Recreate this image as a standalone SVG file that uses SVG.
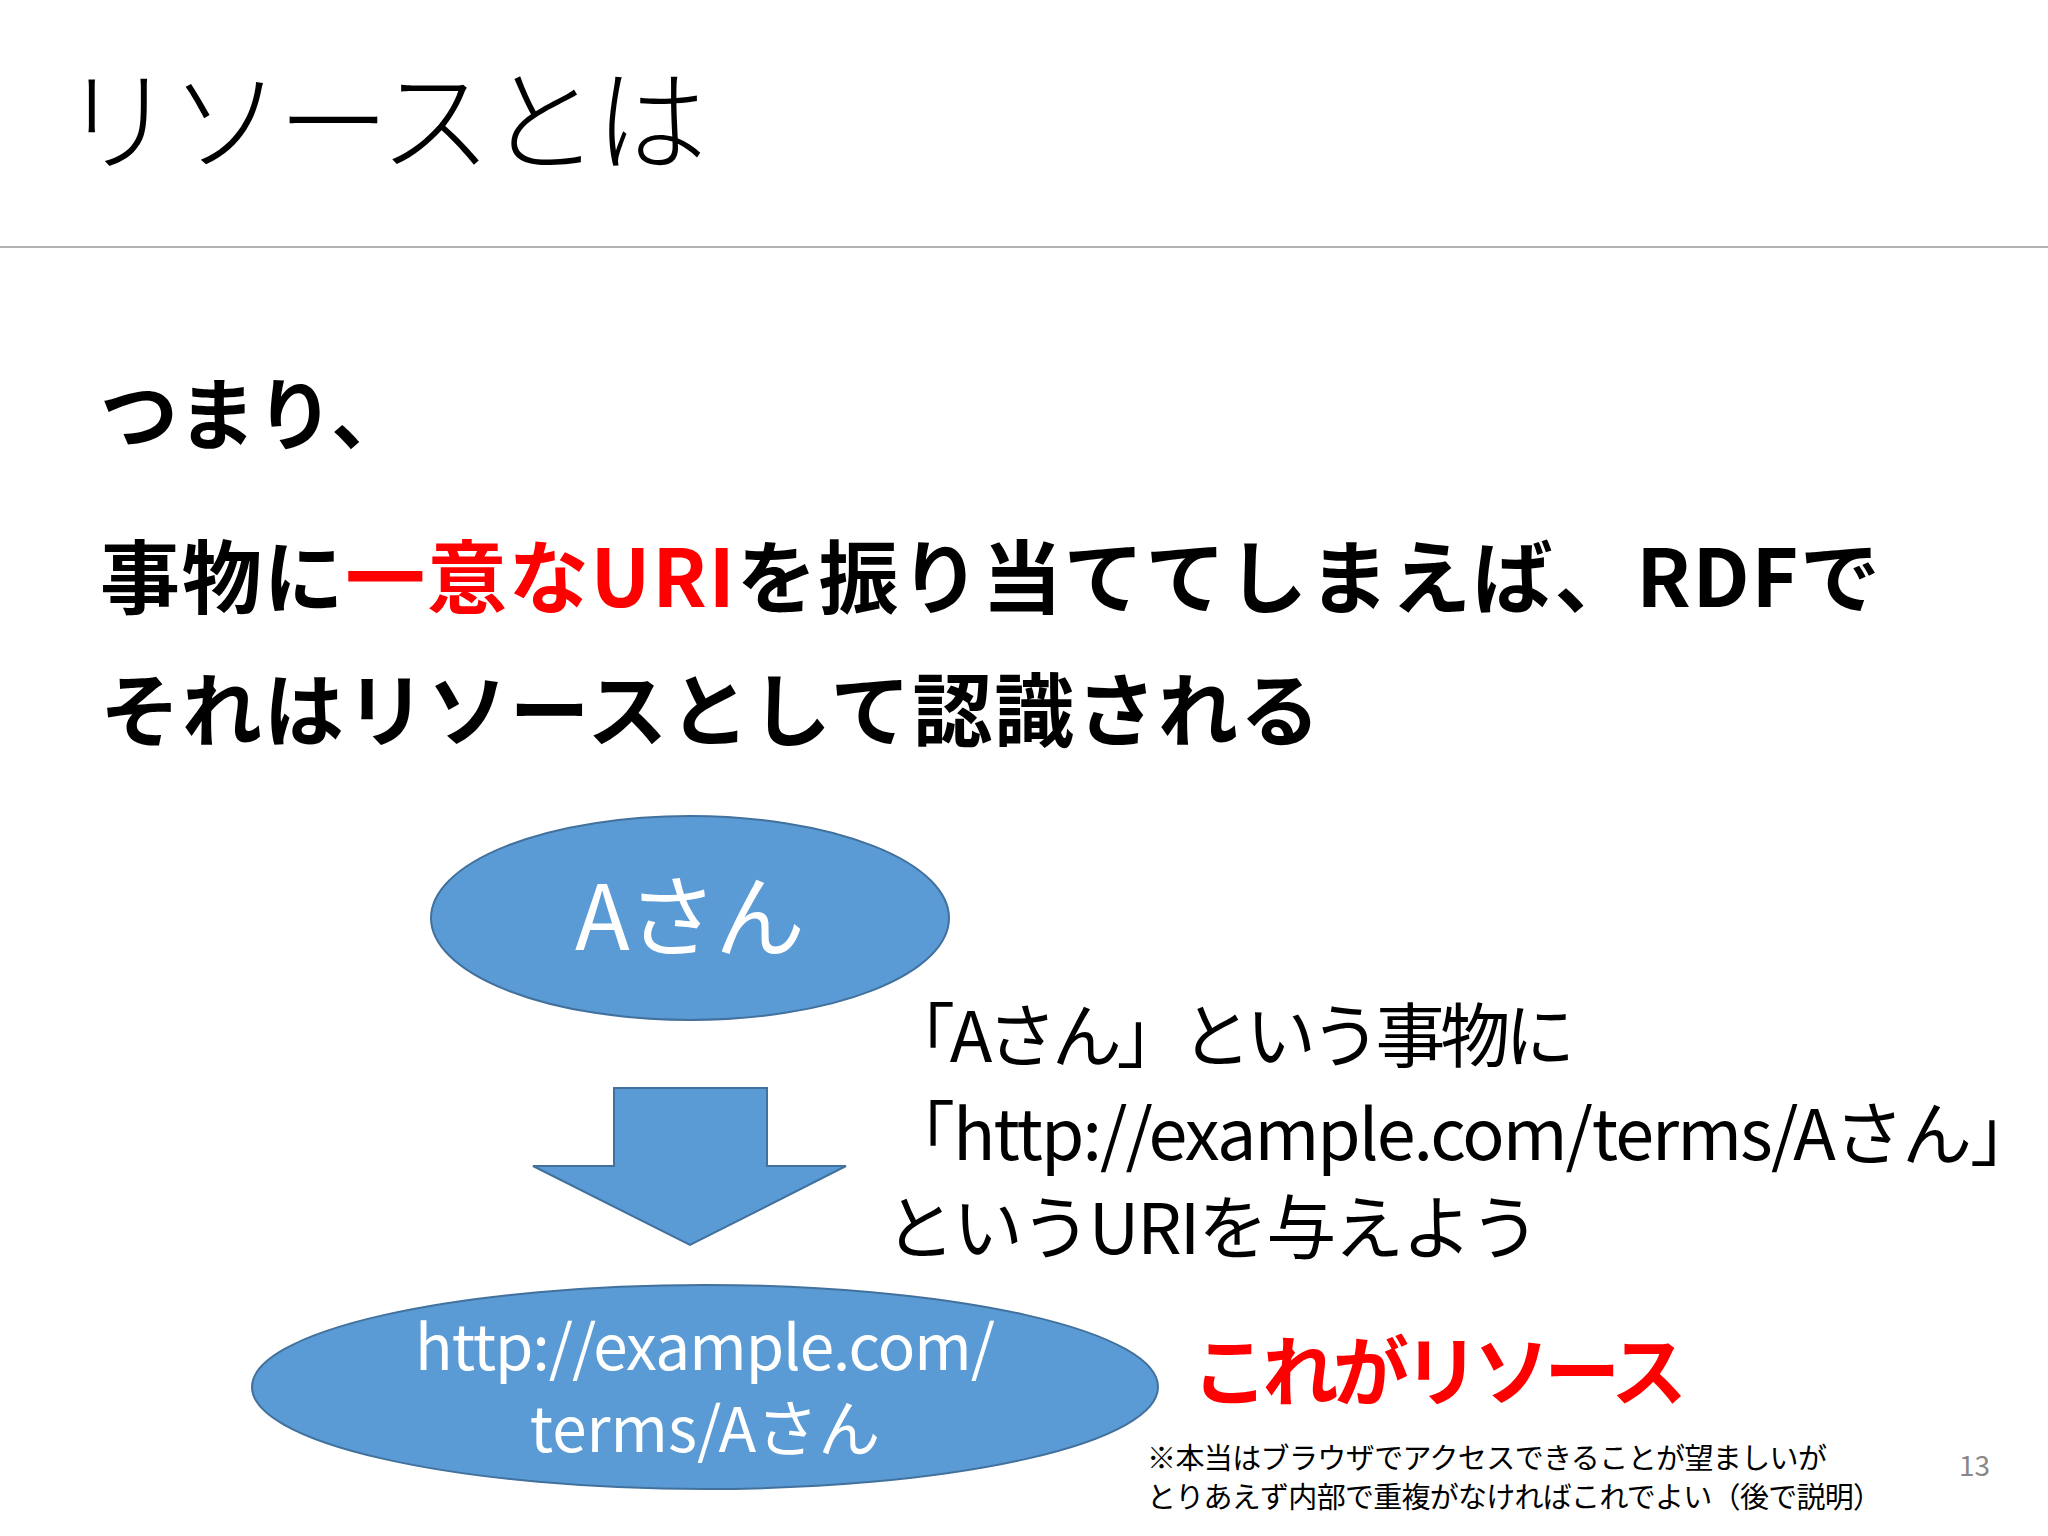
<svg xmlns="http://www.w3.org/2000/svg" width="2048" height="1536" viewBox="0 0 2048 1536">
<style>
text{font-family:"Noto Sans CJK JP","Noto Sans",sans-serif;}
.b{font-weight:bold}
.node{fill:#5b9bd5;stroke:#41719c;stroke-width:2}
.w{fill:#fff}
</style>
<rect width="2048" height="1536" fill="#fff"/>
<text x="62" y="163" font-size="112" font-weight="300" textLength="645">リソースとは</text>
<line x1="0" y1="247" x2="2048" y2="247" stroke="#999" stroke-width="1.5"/>
<text x="100" y="444" font-size="78" class="b">つまり、</text>
<text x="100" y="607" font-size="80" class="b" textLength="1780">事物に<tspan fill="#ff0000">一意なURI</tspan>を振り当ててしまえば、RDFで</text>
<text x="100" y="740" font-size="80" class="b" textLength="1220">それはリソースとして認識される</text>
<g id="nodeA"><ellipse class="node" cx="690" cy="918" rx="259" ry="102"/>
<text class="w" x="690" y="950" font-size="90" text-anchor="middle" textLength="230">Aさん</text></g>
<g id="connectors"><polygon class="node" points="614,1088 767,1088 767,1166 846,1166 690,1245 533,1166 614,1166"/></g>
<g id="label"><text x="885" y="1062" font-size="70" textLength="690">「Aさん」という事物に</text>
<text x="885" y="1160" font-size="70" textLength="1155">「http://example.com/terms/Aさん」</text>
<text x="885" y="1254" font-size="70" textLength="655">というURIを与えよう</text></g>
<g id="nodeB"><ellipse class="node" cx="705" cy="1387" rx="453" ry="102"/>
<text class="w" x="705" y="1370" font-size="62" text-anchor="middle" textLength="580">http://example.com/</text>
<text class="w" x="705" y="1452" font-size="62" text-anchor="middle">terms/Aさん</text></g>
<text x="1192" y="1400" font-size="76" class="b" fill="#ff0000" textLength="495">これがリソース</text>
<text x="1147" y="1469" font-size="29" textLength="680">※本当はブラウザでアクセスできることが望ましいが</text>
<text x="1147" y="1508" font-size="29" textLength="735">とりあえず内部で重複がなければこれでよい（後で説明）</text>
<text x="1959" y="1476" font-size="28" fill="#888">13</text>
</svg>
